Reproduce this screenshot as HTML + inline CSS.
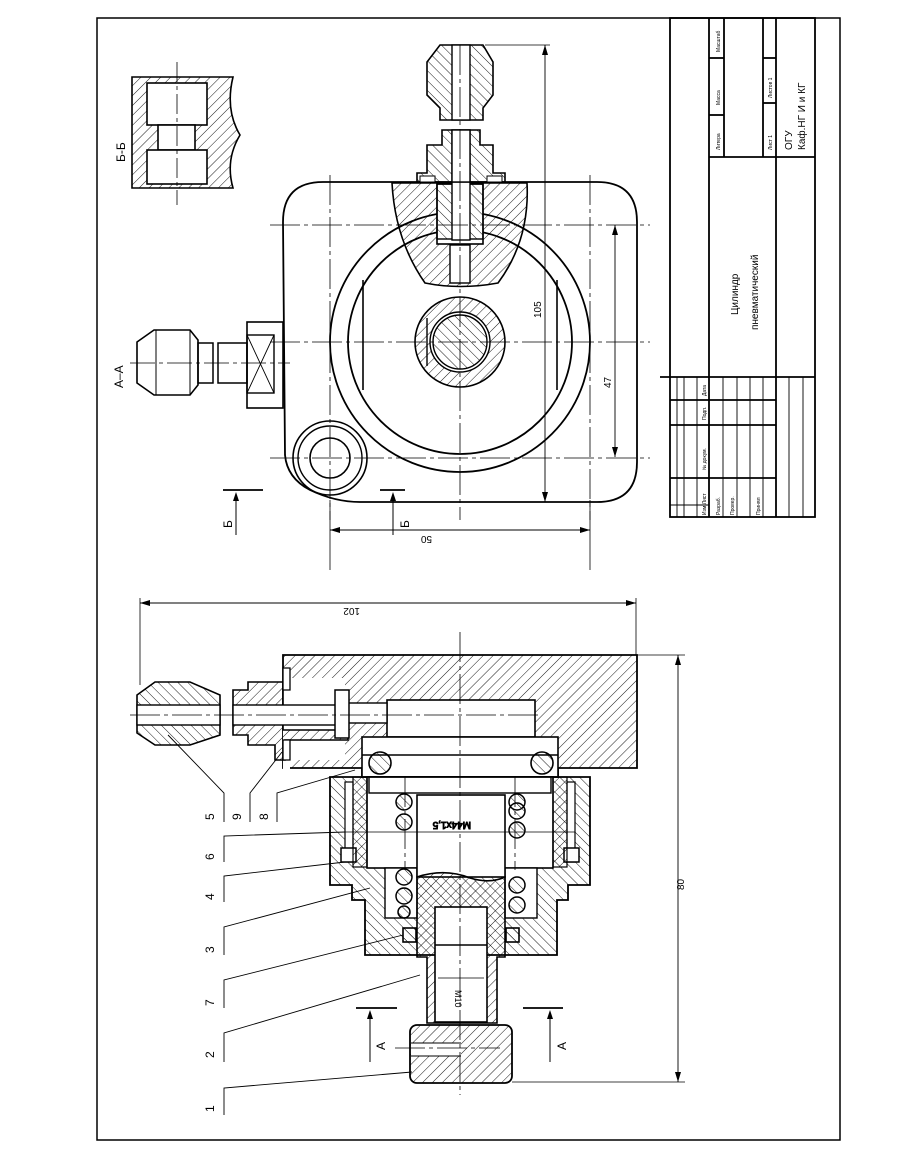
<!DOCTYPE html>
<html><head><meta charset="utf-8"><style>
html,body{margin:0;padding:0;background:#fff}
svg{display:block}
text{font-family:"Liberation Sans","DejaVu Sans",sans-serif;fill:#000}
</style></head><body>
<svg width="910" height="1155" viewBox="0 0 910 1155" xmlns="http://www.w3.org/2000/svg">
<defs>
<pattern id="h" width="7" height="7" patternUnits="userSpaceOnUse" patternTransform="rotate(45)">
<line x1="0" y1="0" x2="0" y2="7" stroke="#000" stroke-width="0.9"/></pattern>
<pattern id="h2" width="7" height="7" patternUnits="userSpaceOnUse" patternTransform="rotate(-45)">
<line x1="0" y1="0" x2="0" y2="7" stroke="#000" stroke-width="0.9"/></pattern>
</defs>
<g fill="none" stroke="#000" stroke-width="1">
<!-- frame -->
<rect x="97" y="18" width="743" height="1122" stroke-width="1.5"/>
<!-- title block -->
<g stroke-width="1.8">
<rect x="670" y="18" width="145" height="499"/>
<line x1="709" y1="18" x2="709" y2="377"/>
<line x1="776" y1="18" x2="776" y2="517"/>
<line x1="709" y1="157" x2="815" y2="157"/>
<line x1="660" y1="377" x2="815" y2="377"/>
<line x1="763" y1="18" x2="763" y2="157"/>
<line x1="724" y1="18" x2="724" y2="157"/>
<line x1="709" y1="58" x2="724" y2="58"/>
<line x1="709" y1="115" x2="724" y2="115"/>
<line x1="763" y1="58" x2="776" y2="58"/>
<line x1="763" y1="103" x2="776" y2="103"/>
<line x1="709" y1="377" x2="709" y2="517"/>
<line x1="670" y1="400" x2="776" y2="400"/>
<line x1="670" y1="425" x2="776" y2="425"/>
<line x1="670" y1="478" x2="776" y2="478"/>
</g>
<g stroke-width="0.9">
<line x1="677" y1="377" x2="677" y2="517"/><line x1="684" y1="377" x2="684" y2="517"/>
<line x1="697" y1="377" x2="697" y2="517"/><line x1="723" y1="377" x2="723" y2="517"/>
<line x1="737" y1="377" x2="737" y2="517"/><line x1="750" y1="377" x2="750" y2="517"/>
<line x1="763" y1="377" x2="763" y2="517"/><line x1="789" y1="377" x2="789" y2="517"/>
<line x1="803" y1="377" x2="803" y2="517"/><line x1="670" y1="505" x2="709" y2="505"/>
</g>

<!-- ============ TOP VIEW ============ -->
<path d="M323,182 H597 Q637,182 637,222 V462 Q637,502 597,502 H360 Q335,502 310,490 Q287,478 285,455 L283,222 Q283,182 323,182 Z" stroke-width="1.8"/>
<circle cx="460" cy="342" r="130" stroke-width="1.8"/>
<circle cx="460" cy="342" r="112" stroke-width="1.8"/>
<line x1="363" y1="280" x2="363" y2="390" stroke-width="1.6"/>
<line x1="557" y1="280" x2="557" y2="390" stroke-width="1.6"/>
<circle cx="460" cy="342" r="45" fill="url(#h)" stroke-width="1.6"/>
<circle cx="460" cy="342" r="30" fill="#fff" stroke-width="1.4"/>
<circle cx="460" cy="342" r="27" fill="url(#h2)" stroke-width="1.4"/>
<line x1="427" y1="318" x2="427" y2="366" stroke-width="1.4"/>
<!-- small boss -->
<circle cx="330" cy="458" r="37" fill="#fff" stroke-width="1.6"/>
<circle cx="330" cy="458" r="32" stroke-width="1.4"/>
<circle cx="330" cy="458" r="20" stroke-width="1.6"/>
<!-- wedge section -->
<path d="M392,183 H527 Q530,240 498,283 Q460,290 425,283 Q395,240 392,183 Z" fill="url(#h)" stroke-width="1.6"/>
<rect x="437" y="184" width="46" height="60" fill="#fff" stroke-width="1.6"/>
<rect x="437" y="184" width="46" height="55" fill="url(#h2)" stroke-width="1.4"/>
<rect x="452" y="130" width="18" height="110" fill="#fff" stroke-width="1.4"/>
<rect x="450" y="245" width="20" height="38" fill="#fff" stroke-width="1.4"/>
<!-- top fitting -->
<path d="M442,130 H480 V145 H493 V173 H505 V182 H417 V173 H427 V145 H442 Z" fill="url(#h2)" stroke-width="1.6"/>
<rect x="452" y="130" width="18" height="52" fill="#fff" stroke-width="1.4"/>
<rect x="420" y="176" width="15" height="6" fill="#fff"/><rect x="487" y="176" width="15" height="6" fill="#fff"/>
<path d="M440,45 H483 L493,62 V95 L483,108 V120 H440 V108 L427,95 V62 Z" fill="url(#h2)" stroke-width="1.6"/>
<rect x="452" y="45" width="18" height="75" fill="#fff" stroke-width="1.4"/>
<!-- center lines -->
<g stroke-width="0.8" stroke-dasharray="30,4,4,4">
<line x1="460" y1="45" x2="460" y2="520"/>
<line x1="270" y1="342" x2="650" y2="342"/>
<line x1="330" y1="175" x2="330" y2="520"/>
<line x1="590" y1="175" x2="590" y2="520"/>
<line x1="270" y1="225" x2="650" y2="225"/>
<line x1="270" y1="458" x2="650" y2="458"/>
</g>
<!-- dims -->
<line x1="545" y1="45" x2="545" y2="502" stroke-width="0.9"/>
<line x1="485" y1="45" x2="550" y2="45" stroke-width="0.8"/>
<line x1="615" y1="225" x2="615" y2="457" stroke-width="0.9"/>
<line x1="330" y1="530" x2="590" y2="530" stroke-width="0.9"/>
<line x1="330" y1="500" x2="330" y2="570" stroke-width="0.8"/>
<line x1="590" y1="500" x2="590" y2="570" stroke-width="0.8"/>
<!-- A-A fitting -->
<path d="M154,330 H190 L198,340 V385 L190,395 H154 L137,383 V342 Z" stroke-width="1.6"/>
<line x1="156" y1="330" x2="156" y2="395"/><line x1="190" y1="330" x2="190" y2="395"/>
<rect x="198" y="343" width="15" height="40" stroke-width="1.5"/>
<rect x="218" y="343" width="29" height="40" stroke-width="1.5"/>
<rect x="247" y="322" width="36" height="86" stroke-width="1.6"/>
<rect x="247" y="335" width="27" height="58" stroke-width="1.4"/>
<path d="M247,335 L274,393 M274,335 L247,393" stroke-width="0.9"/>
<line x1="130" y1="363" x2="290" y2="363" stroke-width="0.8" stroke-dasharray="25,4,4,4"/>
<!-- Б markers -->
<line x1="223" y1="490" x2="263" y2="490" stroke-width="1.8"/>
<line x1="236" y1="494" x2="236" y2="535"/>
<line x1="380" y1="490" x2="405" y2="490" stroke-width="1.8"/>
<line x1="393" y1="494" x2="393" y2="535"/>
<!-- Б-Б section -->
<path d="M132,77 H233 Q225,110 240,135 Q225,160 233,188 H132 Z" fill="url(#h)" stroke-width="1.6"/>
<rect x="147" y="83" width="60" height="42" fill="#fff" stroke-width="1.6"/>
<rect x="158" y="125" width="37" height="25" fill="#fff" stroke-width="1.6"/>
<rect x="147" y="150" width="60" height="34" fill="#fff" stroke-width="1.6"/>
<line x1="177" y1="62" x2="177" y2="205" stroke-width="0.8" stroke-dasharray="20,4,4,4"/>

<!-- ============ SECTION VIEW ============ -->
<path d="M283,655 H637 V768 H558 V777 H362 V768 H283 Z" fill="url(#h)" stroke-width="1.8"/>
<rect x="387" y="700" width="148" height="37" fill="#fff" stroke-width="1.6"/>
<rect x="362" y="737" width="196" height="40" fill="#fff" stroke-width="1.6"/>
<line x1="362" y1="755" x2="558" y2="755" stroke-width="1.4"/>
<line x1="367" y1="777" x2="553" y2="777" stroke-width="1.4"/>
<rect x="345" y="703" width="42" height="20" fill="#fff" stroke-width="1.4"/>
<circle cx="380" cy="763" r="11" fill="url(#h2)" stroke-width="1.6"/>
<circle cx="542" cy="763" r="11" fill="url(#h2)" stroke-width="1.6"/>
<!-- housing -->
<path d="M330,777 H590 V885 H568 V900 H557 V955 H365 V900 H352 V885 H330 Z" fill="url(#h2)" stroke-width="1.8"/>
<rect x="367" y="777" width="186" height="91" fill="#fff" stroke-width="1.6"/>
<rect x="385" y="868" width="32" height="50" fill="#fff" stroke-width="1.4"/>
<rect x="505" y="868" width="32" height="50" fill="#fff" stroke-width="1.4"/>
<rect x="345" y="782" width="8" height="80" fill="#fff" stroke-width="1.2"/>
<rect x="567" y="782" width="8" height="80" fill="#fff" stroke-width="1.2"/>
<rect x="341" y="848" width="15" height="14" fill="#fff" stroke-width="1.5"/>
<rect x="564" y="848" width="15" height="14" fill="#fff" stroke-width="1.5"/>
<rect x="353" y="777" width="14" height="90" fill="url(#h)" stroke-width="1.2"/>
<rect x="553" y="777" width="14" height="90" fill="url(#h)" stroke-width="1.2"/>
<rect x="369" y="777" width="182" height="16" stroke-width="1.4"/>
<!-- rod -->
<rect x="417" y="795" width="88" height="82" fill="#fff" stroke-width="1.6"/>
<path d="M417,877 Q445,868 470,878 Q490,884 505,877 V957 H497 V1023 H427 V957 H417 Z" fill="url(#h)" stroke-width="1.6"/>
<rect x="435" y="907" width="52" height="115" fill="#fff" stroke-width="1.6"/>
<line x1="435" y1="945" x2="487" y2="945" stroke-width="1.4"/>
<rect x="403" y="928" width="13" height="14" fill="url(#h2)" stroke-width="1.6"/>
<rect x="506" y="928" width="13" height="14" fill="url(#h2)" stroke-width="1.6"/>
<!-- springs -->
<g fill="url(#h2)" stroke-width="1.5">
<circle cx="404" cy="802" r="8"/><circle cx="404" cy="822" r="8"/>
<circle cx="404" cy="877" r="8"/><circle cx="404" cy="896" r="8"/><circle cx="404" cy="912" r="6"/>
<circle cx="517" cy="802" r="8"/><circle cx="517" cy="811" r="8"/><circle cx="517" cy="830" r="8"/>
<circle cx="517" cy="885" r="8"/><circle cx="517" cy="905" r="8"/>
</g>
<text x="0" y="0" font-size="10" transform="translate(471,822) rotate(180)">M44x1,5</text>
<!-- plug -->
<rect x="410" y="1025" width="102" height="58" rx="7" fill="url(#h)" stroke-width="1.8"/>
<rect x="411" y="1043" width="50" height="13" fill="#fff" stroke="none"/>
<line x1="411" y1="1043" x2="461" y2="1043"/><line x1="411" y1="1056" x2="461" y2="1056"/>
<!-- left fitting section -->
<path d="M283,668 H290 V678 H345 V760 H290 V770 H283 Z" fill="#fff" stroke="none"/>
<path d="M248,682 H283 V730 H348 V740 H285 V760 H275 V745 H248 V735 H233 V690 H248 Z" fill="url(#h)" stroke-width="1.6"/>
<path d="M283,668 H290 V690 H283 Z M283,740 H290 V760 H283 Z" fill="#fff" stroke-width="1.3"/>
<rect x="233" y="705" width="115" height="20" fill="#fff" stroke-width="1.4"/>
<rect x="335" y="690" width="14" height="48" fill="#fff" stroke-width="1.5"/>
<path d="M155,682 H190 L220,695 V735 L190,745 H155 L137,733 V695 Z" fill="url(#h2)" stroke-width="1.6"/>
<rect x="137" y="705" width="83" height="20" fill="#fff" stroke-width="1.4"/>
<!-- center lines -->
<g stroke-width="0.8" stroke-dasharray="30,4,4,4">
<line x1="460" y1="632" x2="460" y2="1095"/>
<line x1="130" y1="715" x2="540" y2="715"/>
<line x1="405" y1="777" x2="405" y2="870"/>
<line x1="515" y1="777" x2="515" y2="870"/>
<line x1="395" y1="1048" x2="500" y2="1048"/>
</g>
<line x1="345" y1="832" x2="575" y2="832" stroke-width="0.8"/>
<!-- dims -->
<line x1="140" y1="603" x2="636" y2="603" stroke-width="0.9"/>
<line x1="140" y1="598" x2="140" y2="685" stroke-width="0.8"/>
<line x1="636" y1="598" x2="636" y2="655" stroke-width="0.8"/>
<line x1="678" y1="655" x2="678" y2="1082" stroke-width="0.9"/>
<line x1="637" y1="655" x2="685" y2="655" stroke-width="0.8"/>
<line x1="512" y1="1082" x2="685" y2="1082" stroke-width="0.8"/>
<line x1="438" y1="978" x2="484" y2="978" stroke-width="0.8"/>
<!-- A markers -->
<line x1="356" y1="1008" x2="397" y2="1008" stroke-width="1.8"/>
<line x1="370" y1="1012" x2="370" y2="1062"/>
<line x1="523" y1="1008" x2="563" y2="1008" stroke-width="1.8"/>
<line x1="550" y1="1012" x2="550" y2="1062"/>
<!-- leaders -->
<g stroke-width="0.9">
<path d="M224,822 V793 L168,735"/>
<path d="M250,822 V793 L282,752"/>
<path d="M277,822 V793 L355,770"/>
<path d="M224,862 V836 L345,832"/>
<path d="M224,902 V876 L345,862"/>
<path d="M224,955 V927 L370,888"/>
<path d="M224,1008 V980 L403,935"/>
<path d="M224,1062 V1033 L420,975"/>
<path d="M224,1115 V1088 L412,1072"/>
</g>
</g>
<!-- arrowheads -->
<g fill="#000">
<path d="M545,45 l-3,10 h6z M545,502 l-3,-10 h6z M615,225 l-3,10 h6z M615,457 l-3,-10 h6z"/>
<path d="M330,530 l10,-3 v6z M590,530 l-10,-3 v6z M140,603 l10,-3 v6z M636,603 l-10,-3 v6z"/>
<path d="M678,655 l-3,10 h6z M678,1082 l-3,-10 h6z M236,492 l-3,9 h6z M393,492 l-3,9 h6z"/>
<path d="M370,1010 l-3,9 h6z M550,1010 l-3,9 h6z"/>
</g>
<!-- texts -->
<g font-size="12">
<text transform="translate(125,162) rotate(-90)">Б-Б</text>
<text transform="translate(123,388) rotate(-90)">А–А</text>
<text transform="translate(232,528) rotate(-90)">Б</text>
<text transform="translate(409,528) rotate(-90)">Б</text>
<text transform="translate(541,318) rotate(-90)" font-size="10">105</text>
<text transform="translate(611,388) rotate(-90)" font-size="10">47</text>
<text transform="translate(432,536) rotate(180)" font-size="10">50</text>
<text transform="translate(360,608) rotate(180)" font-size="10">102</text>
<text transform="translate(684,890) rotate(-90)" font-size="10">80</text>
<text transform="translate(455,990) rotate(90)" font-size="9">M10</text>
<text transform="translate(385,1050) rotate(-90)">A</text>
<text transform="translate(566,1050) rotate(-90)">A</text>
<text transform="translate(214,820) rotate(-90)">5</text>
<text transform="translate(241,820) rotate(-90)">9</text>
<text transform="translate(268,820) rotate(-90)">8</text>
<text transform="translate(214,860) rotate(-90)">6</text>
<text transform="translate(214,900) rotate(-90)">4</text>
<text transform="translate(214,953) rotate(-90)">3</text>
<text transform="translate(214,1006) rotate(-90)">7</text>
<text transform="translate(214,1058) rotate(-90)">2</text>
<text transform="translate(214,1112) rotate(-90)">1</text>
</g>
<g font-size="10">
<text transform="translate(738,315) rotate(-90)">Цилиндр</text>
<text transform="translate(758,330) rotate(-90)">пневматический</text>
<text transform="translate(792,150) rotate(-90)">ОГУ</text>
<text transform="translate(805,150) rotate(-90)">Каф.НГ И и КГ</text>
</g>
<g font-size="5">
<text transform="translate(720,150) rotate(-90)">Литера</text>
<text transform="translate(720,105) rotate(-90)">Масса</text>
<text transform="translate(720,52) rotate(-90)">Масштаб</text>
<text transform="translate(772,150) rotate(-90)">Лист 1</text>
<text transform="translate(772,98) rotate(-90)">Листов 1</text>
<text transform="translate(706,515) rotate(-90)">Изм  Лист</text>
<text transform="translate(706,470) rotate(-90)">№ докум.</text>
<text transform="translate(706,420) rotate(-90)">Подп.</text>
<text transform="translate(706,396) rotate(-90)">Дата</text>
<text transform="translate(720,515) rotate(-90)">Разраб.</text>
<text transform="translate(734,515) rotate(-90)">Провер.</text>
<text transform="translate(760,515) rotate(-90)">Принял</text>
</g>
</svg>
</body></html>
